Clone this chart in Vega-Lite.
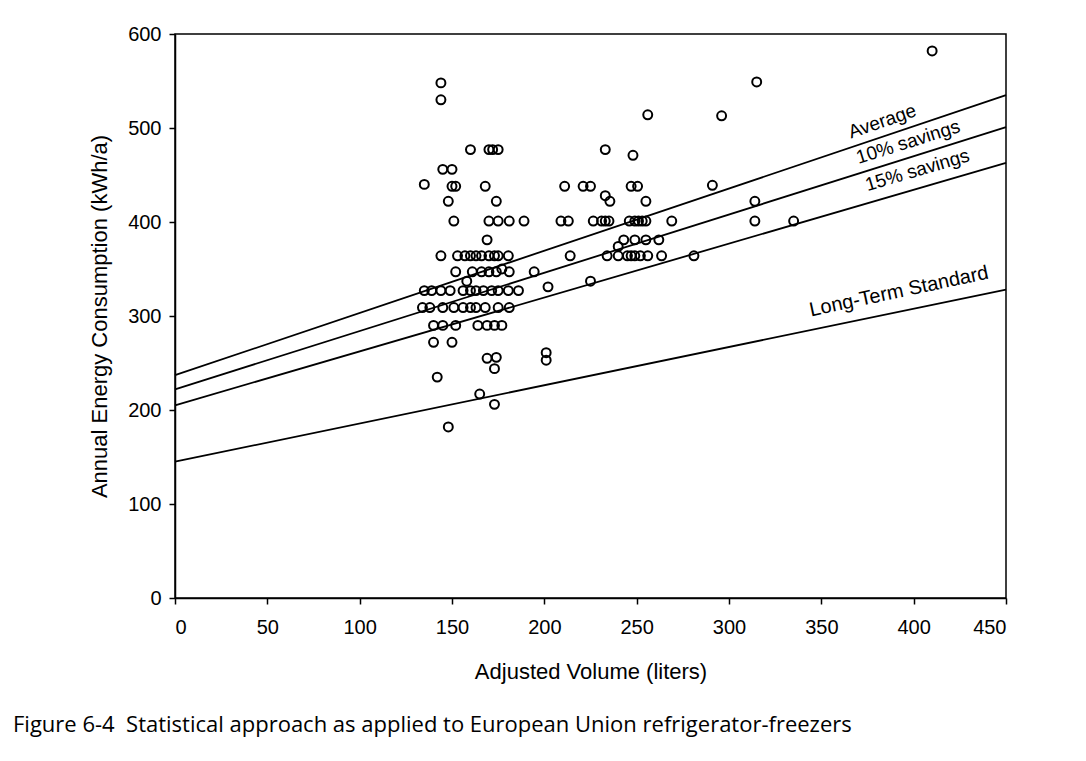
{
  "$schema": "https://vega.github.io/schema/vega-lite/v6.json",
  "autosize": {"type": "none"},
  "width": 831,
  "height": 564,
  "padding": {"left": 175, "top": 34, "right": 80, "bottom": 163},
  "background": "white",
  "title": {
    "text": "Figure 6-4 \u00a0Statistical approach as applied to European Union refrigerator-freezers",
    "orient": "bottom",
    "anchor": "start",
    "frame": "group",
    "dx": -162,
    "offset": 33,
    "font": "Open Sans",
    "fontSize": 22,
    "fontWeight": "normal",
    "color": "black"
  },
  "config": {
    "view": {"stroke": "black", "strokeWidth": 1.5},
    "axis": {
      "grid": false,
      "domainColor": "black",
      "domainWidth": 1.5,
      "tickColor": "black",
      "tickWidth": 1.5,
      "tickSize": 6,
      "labelFont": "Liberation Sans",
      "labelFontSize": 20,
      "labelColor": "black",
      "titleFont": "Liberation Sans",
      "titleFontSize": 22,
      "titleFontWeight": "normal",
      "titleColor": "black"
    }
  },
  "datasets": {
    "points": [
      {"v": 144, "e": 548}, {"v": 144, "e": 530},
      {"v": 160, "e": 477}, {"v": 170, "e": 477}, {"v": 172, "e": 477}, {"v": 175, "e": 477},
      {"v": 145, "e": 456}, {"v": 150, "e": 456},
      {"v": 135, "e": 440}, {"v": 150, "e": 438}, {"v": 152, "e": 438}, {"v": 168, "e": 438},
      {"v": 148, "e": 422}, {"v": 174, "e": 422},
      {"v": 151, "e": 401}, {"v": 170, "e": 401}, {"v": 175, "e": 401}, {"v": 181, "e": 401}, {"v": 189, "e": 401}, {"v": 209, "e": 401}, {"v": 213, "e": 401},
      {"v": 169, "e": 381},
      {"v": 144, "e": 364}, {"v": 153, "e": 364}, {"v": 157, "e": 364}, {"v": 160, "e": 364}, {"v": 163, "e": 364}, {"v": 166, "e": 364}, {"v": 170, "e": 364}, {"v": 173, "e": 364}, {"v": 175, "e": 364}, {"v": 180.5, "e": 364}, {"v": 214, "e": 364},
      {"v": 152, "e": 347}, {"v": 161, "e": 347}, {"v": 166, "e": 347}, {"v": 170, "e": 347}, {"v": 174, "e": 347}, {"v": 181, "e": 347}, {"v": 194.5, "e": 347}, {"v": 177, "e": 350},
      {"v": 158, "e": 337},
      {"v": 135, "e": 327}, {"v": 139, "e": 327}, {"v": 144, "e": 327}, {"v": 149, "e": 327}, {"v": 156, "e": 327}, {"v": 160, "e": 327}, {"v": 163, "e": 327}, {"v": 167, "e": 327}, {"v": 171.5, "e": 327}, {"v": 175, "e": 327}, {"v": 180.5, "e": 327}, {"v": 186, "e": 327},
      {"v": 202, "e": 331},
      {"v": 134, "e": 309}, {"v": 138, "e": 309}, {"v": 145, "e": 309}, {"v": 151, "e": 309}, {"v": 156, "e": 309}, {"v": 160, "e": 309}, {"v": 163, "e": 309}, {"v": 168, "e": 309}, {"v": 175, "e": 309}, {"v": 181, "e": 309},
      {"v": 140, "e": 290}, {"v": 145, "e": 290}, {"v": 152, "e": 290}, {"v": 164, "e": 290}, {"v": 169, "e": 290}, {"v": 173, "e": 290}, {"v": 177, "e": 290},
      {"v": 140, "e": 272}, {"v": 150, "e": 272},
      {"v": 169, "e": 255}, {"v": 174, "e": 256},
      {"v": 201, "e": 261}, {"v": 201, "e": 253},
      {"v": 173, "e": 244}, {"v": 142, "e": 235}, {"v": 165, "e": 217}, {"v": 173, "e": 206}, {"v": 148, "e": 182},
      {"v": 256, "e": 514}, {"v": 296, "e": 513},
      {"v": 233, "e": 477}, {"v": 248, "e": 471},
      {"v": 211, "e": 438}, {"v": 221, "e": 438}, {"v": 225, "e": 438}, {"v": 247, "e": 438}, {"v": 250.5, "e": 438}, {"v": 291, "e": 439},
      {"v": 233, "e": 428}, {"v": 235.5, "e": 422}, {"v": 255, "e": 422},
      {"v": 226.5, "e": 401}, {"v": 231, "e": 401}, {"v": 233, "e": 401}, {"v": 235, "e": 401}, {"v": 246, "e": 401}, {"v": 249, "e": 401}, {"v": 251, "e": 401}, {"v": 253, "e": 401}, {"v": 255, "e": 401}, {"v": 269, "e": 401}, {"v": 314, "e": 401}, {"v": 335, "e": 401},
      {"v": 243, "e": 381}, {"v": 249, "e": 381}, {"v": 255, "e": 381}, {"v": 262, "e": 381},
      {"v": 240, "e": 374},
      {"v": 234, "e": 364}, {"v": 240, "e": 364}, {"v": 245, "e": 364}, {"v": 247, "e": 364}, {"v": 249, "e": 364}, {"v": 252, "e": 364}, {"v": 256, "e": 364}, {"v": 263.5, "e": 364}, {"v": 281, "e": 364},
      {"v": 225, "e": 337},
      {"v": 314, "e": 422}, {"v": 315, "e": 549}, {"v": 410, "e": 582}
    ],
    "lines": [
      {"series": "Average", "v": 0, "e": 237}, {"series": "Average", "v": 450, "e": 535},
      {"series": "10% savings", "v": 0, "e": 222}, {"series": "10% savings", "v": 450, "e": 501},
      {"series": "15% savings", "v": 0, "e": 205}, {"series": "15% savings", "v": 450, "e": 463},
      {"series": "Long-Term Standard", "v": 0, "e": 145}, {"series": "Long-Term Standard", "v": 450, "e": 328}
    ],
    "labels": [
      {"label": "Average", "v": 383, "e": 507},
      {"label": "10% savings", "v": 397, "e": 485},
      {"label": "15% savings", "v": 402, "e": 455},
      {"label": "Long-Term Standard", "v": 392, "e": 326}
    ]
  },
  "layer": [
    {
      "data": {"name": "lines"},
      "mark": {"type": "line", "color": "black", "strokeWidth": 1.8},
      "encoding": {
        "x": {"field": "v", "type": "quantitative", "scale": {"domain": [0, 450], "nice": false}, "axis": {"values": [0, 50, 100, 150, 200, 250, 300, 350, 400, 450], "title": "Adjusted Volume (liters)", "labelPadding": 13, "titlePadding": 24}},
        "y": {"field": "e", "type": "quantitative", "scale": {"domain": [0, 600], "nice": false}, "axis": {"values": [0, 100, 200, 300, 400, 500, 600], "title": "Annual Energy Consumption (kWh/a)", "labelPadding": 8, "titlePadding": 16}},
        "detail": {"field": "series"}
      }
    },
    {
      "data": {"name": "points"},
      "mark": {"type": "point", "shape": "circle", "filled": false, "color": "black", "size": 80, "strokeWidth": 2, "opacity": 1},
      "encoding": {
        "x": {"field": "v", "type": "quantitative"},
        "y": {"field": "e", "type": "quantitative"}
      }
    },
    {
      "data": {"name": "labels"},
      "transform": [{"filter": "datum.label === 'Average'"}],
      "mark": {"type": "text", "angle": -19, "font": "Liberation Sans", "fontSize": 19, "color": "black"},
      "encoding": {"x": {"field": "v", "type": "quantitative"}, "y": {"field": "e", "type": "quantitative"}, "text": {"field": "label"}}
    },
    {
      "data": {"name": "labels"},
      "transform": [{"filter": "datum.label === '10% savings'"}],
      "mark": {"type": "text", "angle": -17.5, "font": "Liberation Sans", "fontSize": 19, "color": "black"},
      "encoding": {"x": {"field": "v", "type": "quantitative"}, "y": {"field": "e", "type": "quantitative"}, "text": {"field": "label"}}
    },
    {
      "data": {"name": "labels"},
      "transform": [{"filter": "datum.label === '15% savings'"}],
      "mark": {"type": "text", "angle": -16.5, "font": "Liberation Sans", "fontSize": 19, "color": "black"},
      "encoding": {"x": {"field": "v", "type": "quantitative"}, "y": {"field": "e", "type": "quantitative"}, "text": {"field": "label"}}
    },
    {
      "data": {"name": "labels"},
      "transform": [{"filter": "datum.label === 'Long-Term Standard'"}],
      "mark": {"type": "text", "angle": -12, "font": "Liberation Sans", "fontSize": 20, "color": "black"},
      "encoding": {"x": {"field": "v", "type": "quantitative"}, "y": {"field": "e", "type": "quantitative"}, "text": {"field": "label"}}
    }
  ]
}
